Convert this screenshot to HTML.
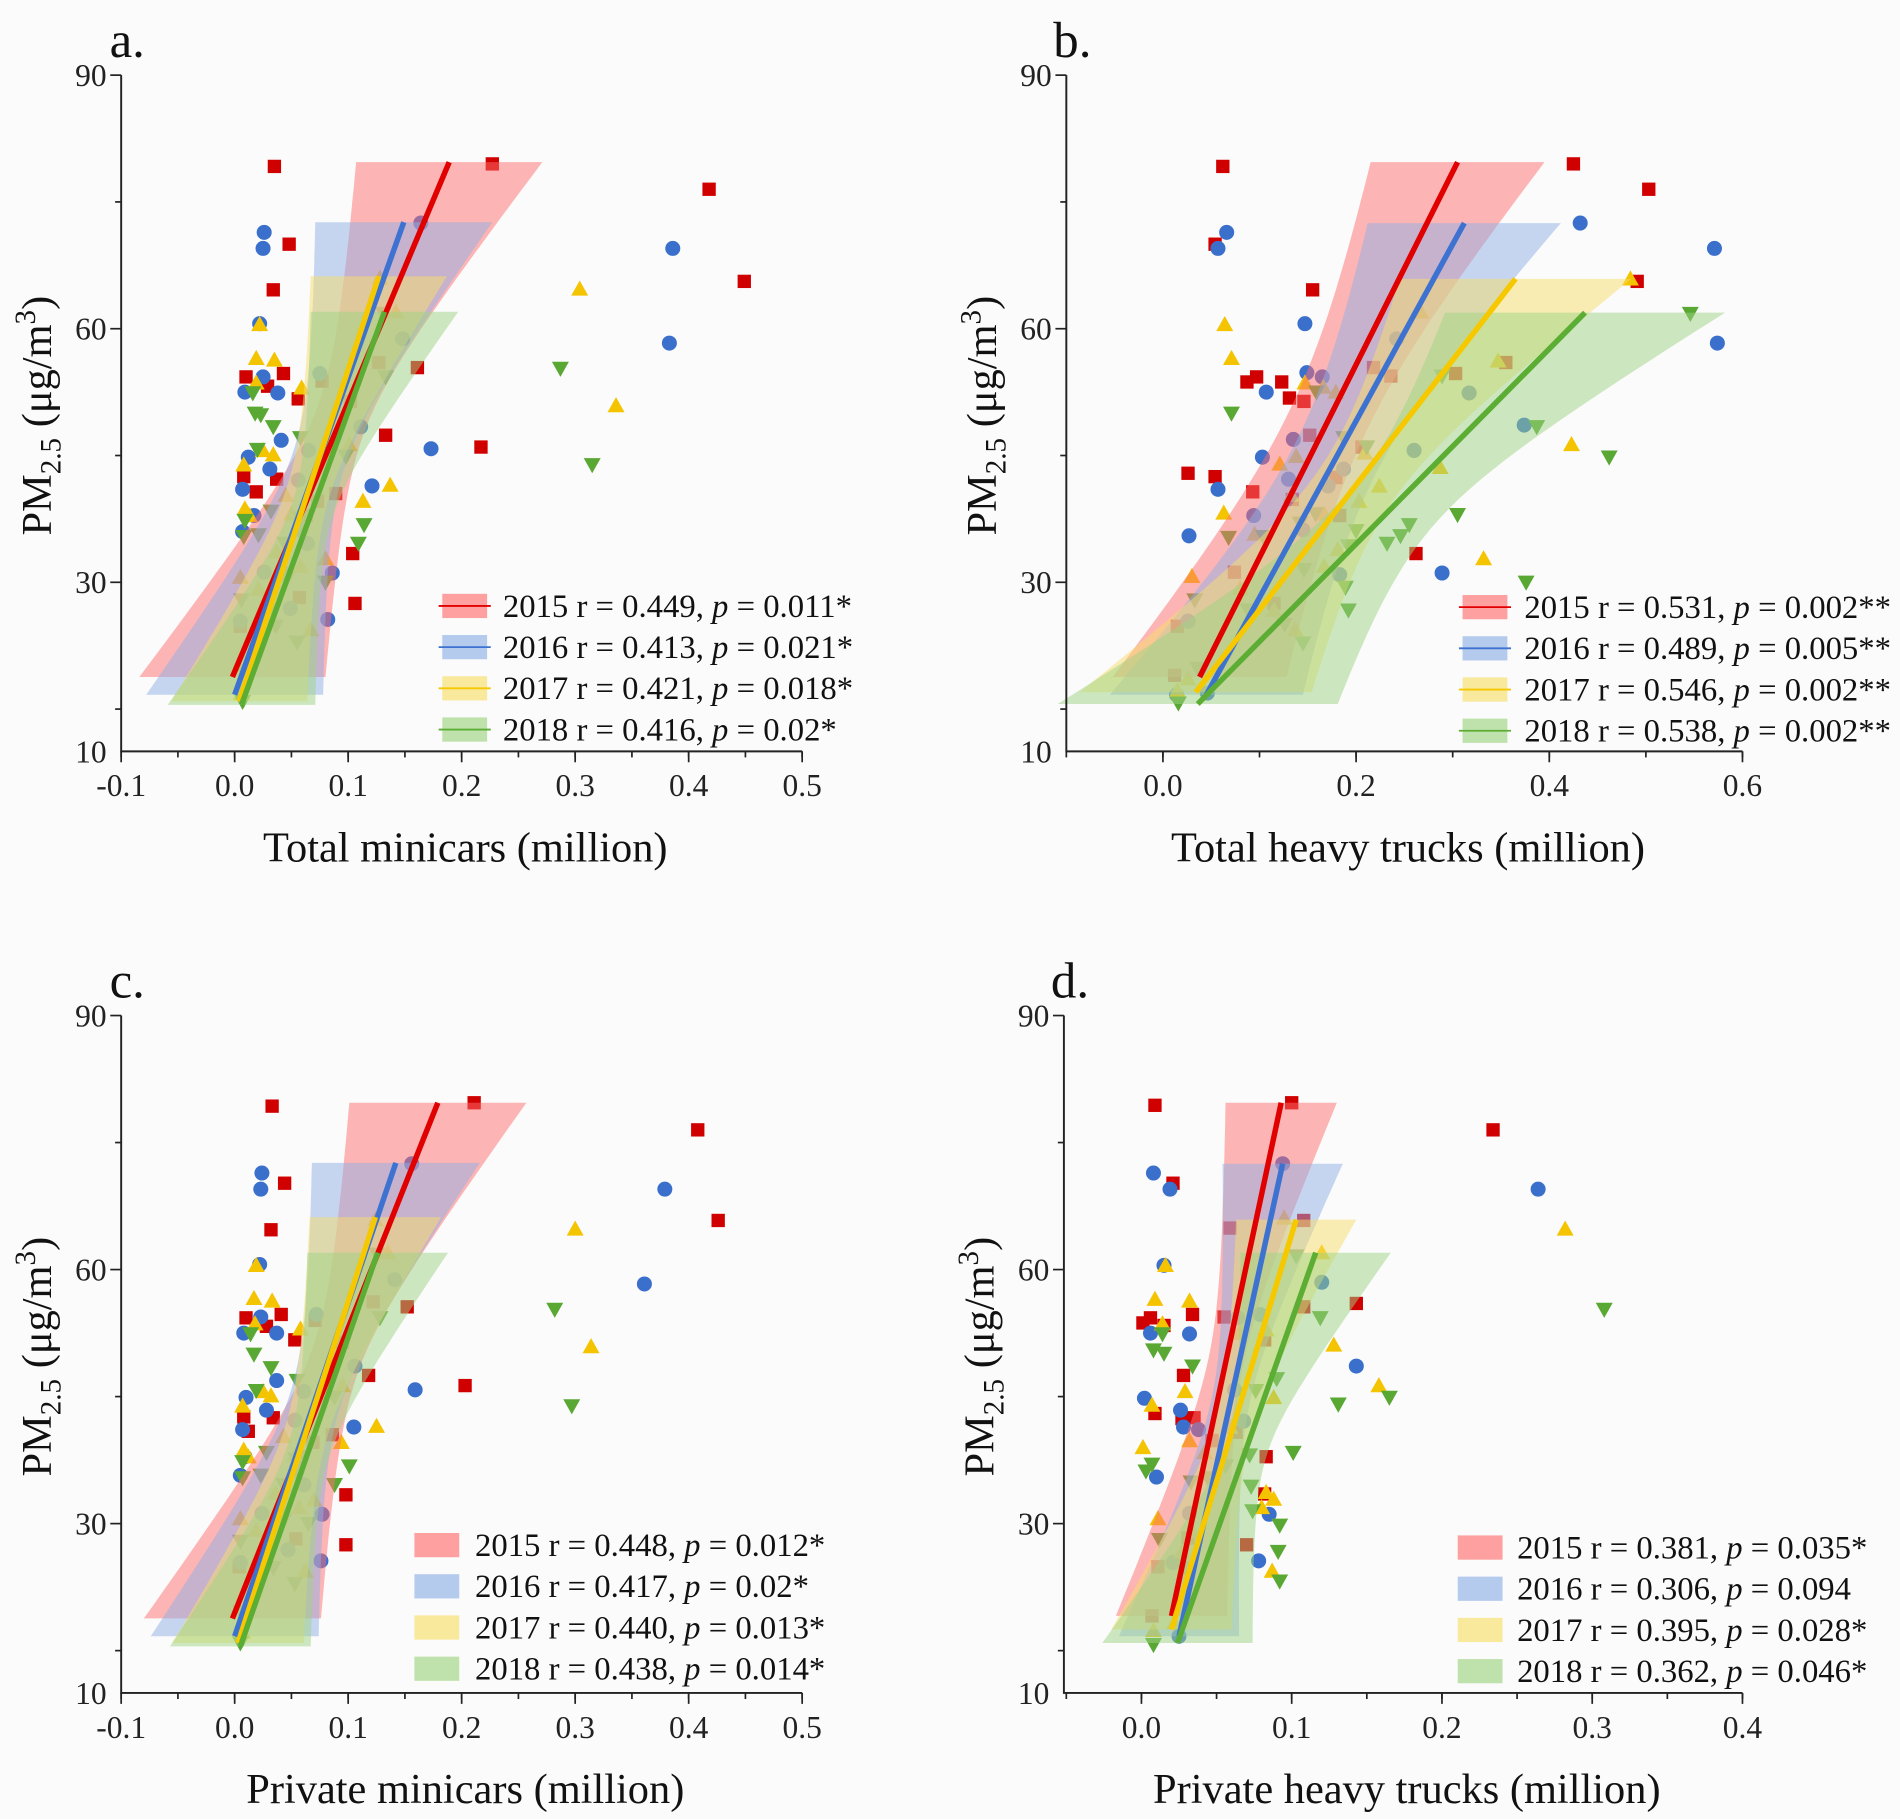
<!DOCTYPE html>
<html><head><meta charset="utf-8"><style>
html,body{margin:0;padding:0;background:#fbfbfb;}
svg{display:block;font-family:"Liberation Serif",serif;}
text{font-family:"Liberation Serif",serif;}
</style></head><body>
<svg id="fig" width="1900" height="1819" viewBox="0 0 1568 1501" preserveAspectRatio="none" font-family="Liberation Serif, serif" xmlns="http://www.w3.org/2000/svg">
<rect x="0" y="0" width="1568" height="1501" fill="#fbfbfb"/>
</svg>
<script>
// ---------- DATA ----------
const years = ["2015","2016","2017","2018"];
// Panel a: Total minicars
const aRedX=[0.035,0.227,0.418,0.048,0.449,0.034,0.161,0.127,0.010,0.043,0.029,0.077,0.056,0.133,0.217,0.008,0.019,0.037,0.089,0.073,0.063,0.104,0.057,0.106,0.005,0.102];
const aRedY=[79.2,79.5,76.5,70.0,65.6,64.6,55.4,56.0,54.3,54.7,53.2,53.8,51.7,47.4,46.0,42.5,40.7,42.2,40.5,39.6,37.9,33.4,28.2,27.5,24.8,51.4];
const aBlueX=[0.026,0.025,0.164,0.386,0.383,0.022,0.025,0.009,0.038,0.075,0.148,0.111,0.041,0.173,0.012,0.031,0.007,0.065,0.056,0.121,0.017,0.058,0.064,0.026,0.086,0.044,0.049,0.082,0.005,0.007];
const aBlueY=[71.4,69.5,72.5,69.5,58.3,60.6,54.3,52.5,52.4,54.7,58.8,48.4,46.8,45.8,44.8,43.4,41.0,45.6,42.1,41.4,37.9,36.2,34.6,31.2,31.1,31.0,26.9,25.6,25.4,36.0];
const aYelX=[0.304,0.336,0.022,0.019,0.035,0.019,0.059,0.142,0.128,0.025,0.034,0.101,0.008,0.137,0.045,0.113,0.009,0.050,0.005,0.037,0.058,0.080,0.021,0.067,0.006,0.013];
const aYelY=[64.7,50.9,60.5,56.5,56.3,53.6,53.0,62.0,66.0,45.6,45.1,46.3,43.9,41.5,40.3,39.6,38.7,38.1,30.6,33.6,31.9,32.8,29.2,24.4,16.9,37.9];
const aGrnX=[0.287,0.315,0.133,0.131,0.016,0.018,0.023,0.034,0.058,0.020,0.098,0.032,0.009,0.021,0.008,0.114,0.109,0.044,0.058,0.006,0.034,0.036,0.055,0.080,0.007,0.007,0.046];
const aGrnY=[55.3,43.9,54.3,61.8,52.4,50.0,49.8,48.4,47.1,45.7,44.9,38.4,37.3,35.6,35.4,36.8,34.6,34.6,37.6,27.9,26.7,24.8,22.9,30.0,19.6,15.9,30.4];
const aFitX0=[-0.002,0.0,0.004,0.006], aFitY0=[18.8,16.7,15.9,15.5], aFitX1=[0.189,0.149,0.127,0.132], aFitY1=[79.7,72.6,66.2,62.0];
const aBandMin=[0.025,0.025,0.02,0.02], aBandEnd=[0.082,0.078,0.06,0.065];
const aLegend=["2015 r = 0.449, |p| = 0.011*","2016 r = 0.413, |p| = 0.021*","2017 r = 0.421, |p| = 0.018*","2018 r = 0.416, |p| = 0.02*"];

// Panel b: Total heavy trucks
const bRedX=[0.062,0.425,0.503,0.054,0.491,0.155,0.218,0.236,0.303,0.355,0.087,0.097,0.123,0.131,0.146,0.152,0.206,0.026,0.054,0.093,0.179,0.134,0.183,0.262,0.074,0.115,0.015,0.012];
const bRedY=[79.2,79.5,76.5,70.0,65.6,64.6,55.4,54.4,54.7,56.0,53.7,54.3,53.7,51.8,51.4,47.4,46.0,42.9,42.5,40.7,42.4,39.8,37.9,33.4,31.2,27.5,24.8,19.0];
const bBlueX=[0.066,0.057,0.432,0.571,0.574,0.147,0.149,0.165,0.107,0.242,0.317,0.374,0.135,0.103,0.260,0.130,0.057,0.187,0.171,0.094,0.027,0.145,0.183,0.289,0.026,0.014,0.046];
const bBlueY=[71.4,69.5,72.5,69.5,58.3,60.6,54.8,54.3,52.5,58.8,52.4,48.6,46.9,44.8,45.6,42.2,41.0,43.4,41.4,37.9,35.5,36.2,30.9,31.1,25.4,16.7,16.9];
const bYelX=[0.484,0.267,0.064,0.071,0.347,0.147,0.166,0.179,0.423,0.121,0.138,0.287,0.209,0.224,0.133,0.203,0.063,0.167,0.095,0.332,0.181,0.167,0.030,0.080,0.115,0.137,0.026,0.015];
const bYelY=[65.9,62.0,60.5,56.5,56.2,53.6,53.1,52.5,46.3,44.0,44.9,43.6,45.3,41.4,40.3,39.6,38.2,38.1,35.7,32.8,33.9,31.9,30.7,29.3,26.7,24.4,18.6,17.2];
const bGrnX=[0.546,0.289,0.159,0.071,0.187,0.211,0.387,0.462,0.305,0.068,0.104,0.142,0.158,0.200,0.192,0.232,0.246,0.255,0.146,0.376,0.189,0.033,0.088,0.192,0.126,0.145,0.036,0.016];
const bGrnY=[61.8,54.4,52.5,50.0,47.1,46.0,48.4,44.8,38.0,35.3,35.4,37.0,38.1,36.1,34.3,34.6,35.5,36.8,31.5,30.0,29.4,27.9,26.7,26.7,25.0,22.8,19.8,15.7];
const bFitX0=[0.038,0.045,0.034,0.036], bFitY0=[18.8,16.7,17.0,15.6], bFitX1=[0.305,0.312,0.365,0.437], bFitY1=[79.7,72.5,65.9,61.9];
const bBandMin=[0.045,0.05,0.05,0.06], bBandEnd=[0.09,0.1,0.12,0.145];
const bLegend=["2015 r = 0.531, |p| = 0.002**","2016 r = 0.489, |p| = 0.005**","2017 r = 0.546, |p| = 0.002**","2018 r = 0.538, |p| = 0.002**"];

// Panel c: Private minicars
const cRedX=[0.033,0.211,0.408,0.044,0.426,0.032,0.152,0.122,0.010,0.041,0.028,0.071,0.053,0.118,0.203,0.008,0.012,0.034,0.086,0.069,0.058,0.098,0.054,0.098,0.004,0.095];
const cRedY=[79.3,79.7,76.5,70.2,65.8,64.7,55.6,56.2,54.3,54.7,53.3,54.0,51.7,47.5,46.3,42.6,40.9,42.5,40.5,39.6,37.9,33.4,28.2,27.5,24.9,51.4];
const cBlueX=[0.024,0.023,0.156,0.379,0.361,0.022,0.023,0.008,0.037,0.072,0.141,0.106,0.037,0.159,0.010,0.028,0.007,0.061,0.053,0.105,0.009,0.055,0.061,0.024,0.077,0.041,0.047,0.076,0.005,0.005];
const cBlueY=[71.4,69.5,72.5,69.5,58.3,60.6,54.4,52.5,52.5,54.7,58.8,48.6,46.9,45.8,44.9,43.4,41.1,45.6,42.2,41.4,37.9,36.2,34.6,31.2,31.1,31.0,26.9,25.6,25.4,35.7];
const cYelX=[0.300,0.314,0.019,0.017,0.033,0.018,0.058,0.135,0.124,0.025,0.032,0.095,0.007,0.125,0.043,0.094,0.008,0.053,0.005,0.036,0.057,0.070,0.019,0.062,0.007,0.012];
const cYelY=[64.8,50.9,60.5,56.6,56.3,53.6,53.0,62.0,65.9,45.6,45.1,46.3,43.9,41.5,40.3,39.6,38.7,38.1,30.6,33.6,31.9,32.8,29.2,24.4,17.2,37.9];
const cGrnX=[0.282,0.297,0.128,0.125,0.014,0.017,0.032,0.055,0.019,0.088,0.028,0.007,0.023,0.007,0.101,0.088,0.043,0.054,0.005,0.032,0.034,0.053,0.065,0.005,0.005,0.043];
const cGrnY=[55.3,43.9,54.3,61.8,52.4,50.0,48.4,46.9,45.7,44.9,38.4,37.3,35.7,35.4,36.8,34.6,34.6,37.6,27.9,26.7,24.8,22.9,30.0,19.6,15.9,30.3];
const cFitX0=[-0.002,0.0,0.003,0.005], cFitY0=[18.8,16.7,15.9,15.5], cFitX1=[0.179,0.142,0.124,0.126], cFitY1=[79.7,72.6,66.2,62.0];
const cBandMin=[0.024,0.024,0.02,0.02], cBandEnd=[0.078,0.074,0.058,0.062];
const cLegend=["2015 r = 0.448, |p| = 0.012*","2016 r = 0.417, |p| = 0.02*","2017 r = 0.440, |p| = 0.013*","2018 r = 0.438, |p| = 0.014*"];

// Panel d: Private heavy trucks
const dRedX=[0.009,0.100,0.234,0.021,0.108,0.059,0.143,0.108,0.001,0.006,0.015,0.034,0.055,0.082,0.028,0.009,0.027,0.035,0.063,0.083,0.082,0.070,0.031,0.011,0.007,0.047];
const dRedY=[79.4,79.7,76.5,70.2,65.8,64.9,56.0,55.6,53.7,54.3,53.4,54.7,54.4,51.7,47.5,43.0,42.4,42.5,40.8,37.9,33.5,27.5,28.3,24.9,19.1,39.8];
const dBlueX=[0.008,0.019,0.094,0.264,0.120,0.015,0.006,0.032,0.064,0.079,0.143,0.002,0.062,0.026,0.028,0.038,0.068,0.010,0.032,0.085,0.021,0.078,0.025];
const dBlueY=[71.4,69.5,72.5,69.5,58.5,60.5,52.5,52.4,54.3,54.7,48.6,44.8,45.8,43.4,41.4,41.1,42.1,35.5,31.2,31.1,25.4,25.6,16.7];
const dYelX=[0.282,0.095,0.120,0.016,0.009,0.032,0.014,0.065,0.083,0.128,0.158,0.029,0.007,0.088,0.032,0.001,0.042,0.059,0.083,0.088,0.080,0.011,0.034,0.027,0.087,0.008,0.022];
const dYelY=[64.8,66.1,62.0,60.5,56.5,56.3,53.6,52.5,52.9,51.1,46.3,45.6,44.0,44.9,39.8,39.0,38.4,41.4,33.7,32.9,31.9,30.6,29.1,26.7,24.4,17.4,18.3];
const dGrnX=[0.308,0.103,0.119,0.008,0.015,0.014,0.034,0.090,0.076,0.131,0.165,0.101,0.007,0.003,0.033,0.044,0.072,0.073,0.074,0.092,0.091,0.092,0.012,0.029,0.008,0.056];
const dGrnY=[55.3,61.6,54.3,50.5,50.1,52.4,48.6,47.1,45.7,44.1,44.9,38.4,37.0,36.2,34.9,35.4,38.1,34.4,31.5,29.8,26.7,23.2,28.1,24.8,15.7,36.8];
const dFitX0=[0.020,0.025,0.020,0.024], dFitY0=[19.1,16.7,17.5,15.9], dFitX1=[0.093,0.094,0.103,0.116], dFitY1=[79.7,72.5,65.9,62.0];
const dBandMin=[0.012,0.013,0.013,0.015], dBandEnd=[0.037,0.04,0.04,0.05];
const dLegend=["2015 r = 0.381, |p| = 0.035*","2016 r = 0.306, |p| = 0.094","2017 r = 0.395, |p| = 0.028*","2018 r = 0.362, |p| = 0.046*"];

// ---------- STYLE ----------
const markColor=["#d00000","#3a6fcc","#f5c400","#5aa834"];
const bandColor=["#ff6e6e","#8fb0e6","#f7de6a","#9ed483"];
const lineColor=["#e00000","#3d72d0","#f5c800","#5cad34"];
const FONT='"Liberation Serif", serif';
const NS="http://www.w3.org/2000/svg";
const svg=document.getElementById('fig');
function mk(tag,attrs,parent){const e=document.createElementNS(NS,tag);for(const k in attrs)e.setAttribute(k,attrs[k]);if(tag==='text')e.setAttribute('font-family',FONT);(parent||svg).appendChild(e);return e;}

const panels=[
 {id:"a",letter:"a.",xmin:-0.1,xmax:0.5,px0:100,px1:662,py0:62,py1:620,xticks:[-0.1,0,0.1,0.2,0.3,0.4,0.5],xlab:["-0.1","0.0","0.1","0.2","0.3","0.4","0.5"],xminor:0.05,title:"Total minicars (million)",
  pts:[[aRedX,aRedY],[aBlueX,aBlueY],[aYelX,aYelY],[aGrnX,aGrnY]],fx0:aFitX0,fy0:aFitY0,fx1:aFitX1,fy1:aFitY1,bmin:aBandMin,bend:aBandEnd,leg:aLegend,legX:365,legTx:415,legY:500,legLine:true},
 {id:"b",letter:"b.",xmin:-0.1,xmax:0.6,px0:880,px1:1438,py0:62,py1:620,xticks:[0,0.2,0.4,0.6],xlab:["0.0","0.2","0.4","0.6"],xminor:0.1,title:"Total heavy trucks (million)",
  pts:[[bRedX,bRedY],[bBlueX,bBlueY],[bYelX,bYelY],[bGrnX,bGrnY]],fx0:bFitX0,fy0:bFitY0,fx1:bFitX1,fy1:bFitY1,bmin:bBandMin,bend:bBandEnd,leg:bLegend,legX:1207,legTx:1258,legY:501,legLine:true},
 {id:"c",letter:"c.",xmin:-0.1,xmax:0.5,px0:100,px1:662,py0:838,py1:1397,xticks:[-0.1,0,0.1,0.2,0.3,0.4,0.5],xlab:["-0.1","0.0","0.1","0.2","0.3","0.4","0.5"],xminor:0.05,title:"Private minicars (million)",
  pts:[[cRedX,cRedY],[cBlueX,cBlueY],[cYelX,cYelY],[cGrnX,cGrnY]],fx0:cFitX0,fy0:cFitY0,fx1:cFitX1,fy1:cFitY1,bmin:cBandMin,bend:cBandEnd,leg:cLegend,legX:342,legTx:392,legY:1275,legLine:false},
 {id:"d",letter:"d.",xmin:-0.0516,xmax:0.4,px0:878,px1:1438,py0:838,py1:1397,xticks:[0,0.1,0.2,0.3,0.4],xlab:["0.0","0.1","0.2","0.3","0.4"],xminor:0.05,title:"Private heavy trucks (million)",
  pts:[[dRedX,dRedY],[dBlueX,dBlueY],[dYelX,dYelY],[dGrnX,dGrnY]],fx0:dFitX0,fy0:dFitY0,fx1:dFitX1,fy1:dFitY1,bmin:dBandMin,bend:dBandEnd,leg:dLegend,legX:1203,legTx:1252,legY:1277,legLine:false}
];

panels.forEach(P=>{
  const sx=v=>P.px0+(v-P.xmin)/(P.xmax-P.xmin)*(P.px1-P.px0);
  const sy=v=>P.py1-(v-10)/80*(P.py1-P.py0);
  const g=mk('g',{});
  
  
  P.pts.forEach((s,si)=>{
    const mg=mk('g',{fill:markColor[si]},g);
    
    
    s[0].forEach((xv,i)=>{
      const cx=sx(xv), cy=sy(s[1][i]); let m;
      if(si===0) m=mk('rect',{x:cx-5.5,y:cy-5.5,width:11,height:11},mg);
      else if(si===1) m=mk('circle',{cx:cx,cy:cy,r:6.2},mg);
      else if(si===2) m=mk('polygon',{points:`${cx},${cy-7} ${cx-7},${cy+5.5} ${cx+7},${cy+5.5}`},mg);
      else m=mk('polygon',{points:`${cx},${cy+7} ${cx-7},${cy-5.5} ${cx+7},${cy-5.5}`},mg);
      
      
    });
  });
  for(let si=0;si<4;si++){
    const y0=P.fy0[si],y1=P.fy1[si],x0=P.fx0[si],x1=P.fx1[si];
    const ym=(y0+y1)/2,yh=(y1-y0)/2,hm=P.bmin[si],he=P.bend[si];
    const L=[],R=[];
    for(let k=0;k<=40;k++){
      const y=y0+(y1-y0)*k/40, xc=x0+(x1-x0)*k/40, t=(y-ym)/yh;
      const hw=Math.sqrt(hm*hm+(he*he-hm*hm)*t*t);
      L.push(sx(xc-hw).toFixed(1)+','+sy(y).toFixed(1));
      R.push(sx(xc+hw).toFixed(1)+','+sy(y).toFixed(1));
    }
    const b=mk('polygon',{points:L.concat(R.reverse()).join(' '),fill:bandColor[si],'fill-opacity':0.5},g);
    
    
  }
  for(let si=0;si<4;si++){
    const l=mk('line',{x1:sx(P.fx0[si]),y1:sy(P.fy0[si]),x2:sx(P.fx1[si]),y2:sy(P.fy1[si]),stroke:lineColor[si],'stroke-width':4.5},g);
    
    
  }
  const ax=mk('path',{d:`M${P.px0},${P.py0} V${P.py1} H${P.px1}`,stroke:'#222',fill:'none','stroke-width':1.6},g);
  
  
  [15,30,45,60,75,90].forEach(v=>{
    const major=(v%30===0);
    mk('line',{x1:P.px0,x2:P.px0-(major?9:5),y1:sy(v),y2:sy(v),stroke:'#222','stroke-width':1.4},g);
  });
  [[90,"90"],[60,"60"],[30,"30"],[10,"10"]].forEach(([v,t])=>{
    const tx=mk('text',{x:P.px0-12,y:sy(v)+9,'text-anchor':'end','font-size':26,fill:'#222'},g);
    tx.textContent=t;
    
    
  });
  for(let v=Math.ceil(P.xmin/P.xminor-1e-6)*P.xminor; v<=P.xmax+1e-9; v+=P.xminor){
    mk('line',{x1:sx(v),x2:sx(v),y1:P.py1,y2:P.py1+5,stroke:'#222','stroke-width':1.4},g);
  }
  P.xticks.forEach((v,i)=>{
    mk('line',{x1:sx(v),x2:sx(v),y1:P.py1,y2:P.py1+9,stroke:'#222','stroke-width':1.4},g);
    const tx=mk('text',{x:sx(v),y:P.py1+37,'text-anchor':'middle','font-size':26,fill:'#222'},g);
    tx.textContent=P.xlab[i];
    
    
  });
  const xt=mk('text',{x:(P.px0+P.px1)/2+3,y:P.py1+91,'text-anchor':'middle','font-size':35,fill:'#111'},g);
  xt.textContent=P.title;
  
  
  const cyT=(P.py0+P.py1)/2;
  const yt=mk('text',{x:0,y:0,'text-anchor':'middle','font-size':35,fill:'#111',transform:`translate(${P.px0-58},${cyT+2}) rotate(-90)`},g);
  
  
  yt.innerHTML='PM<tspan font-size="24" dy="8">2.5</tspan><tspan dy="-8"> (μg/m</tspan><tspan font-size="24" dy="-13">3</tspan><tspan dy="13">)</tspan>';
  const lt=mk('text',{x:P.px0+5,y:P.py0-15,'text-anchor':'middle','font-size':42,fill:'#111'},g);
  lt.textContent=P.letter;
  
  
  P.leg.forEach((t,si)=>{
    const yy=P.legY+si*34;
    const lg=mk('g',{},g);
    
    
    mk('rect',{x:P.legX,y:yy-10,width:37,height:20,fill:bandColor[si],'fill-opacity':0.65},lg);
    if(P.legLine) mk('line',{x1:P.legX-3,x2:P.legX+40,y1:yy,y2:yy,stroke:lineColor[si],'stroke-width':1.5},lg);
    const parts=t.split('|');
    const tx=mk('text',{x:P.legTx,y:yy+9,'font-size':27,fill:'#111'},lg);
    tx.innerHTML=parts[0]+'<tspan font-style="italic">'+parts[1]+'</tspan>'+parts[2];
  });
});
</script>
</body></html>
